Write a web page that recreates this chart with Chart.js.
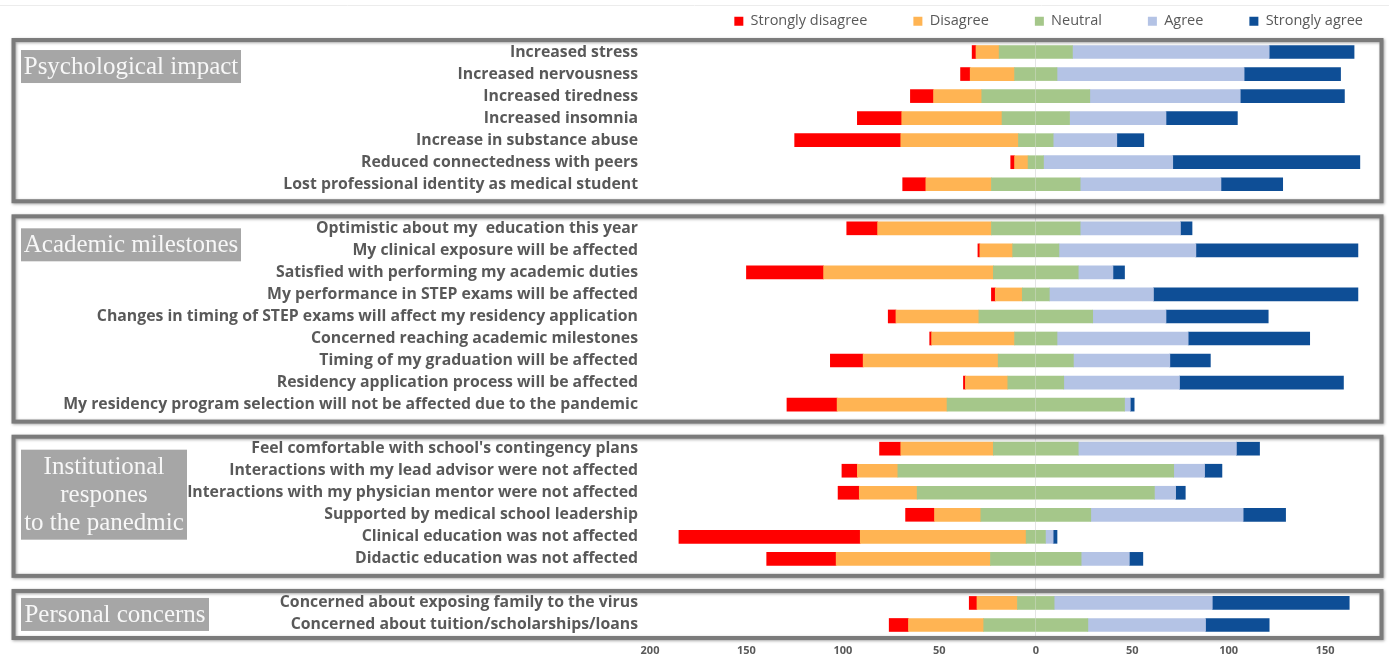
<!DOCTYPE html>
<html>
<head>
<meta charset="utf-8">
<script src="https://cdn.jsdelivr.net/npm/chart.js@4.4.1/dist/chart.umd.min.js"></script>
<style>
  html, body { margin: 0; padding: 0; background: #fff; }
  #wrap { width: 1389px; height: 658px; }
</style>
</head>
<body>
<div id="wrap"><canvas id="likertChart"></canvas></div>
<script>
// questions, empty strings are the gaps between groups
const categories = [
  'Increased stress',
  'Increased nervousness',
  'Increased tiredness',
  'Increased insomnia',
  'Increase in substance abuse',
  'Reduced connectedness with peers',
  'Lost professional identity as medical student',
  '',
  'Optimistic about my  education this year',
  'My clinical exposure will be affected',
  'Satisfied with performing my academic duties',
  'My performance in STEP exams will be affected',
  'Changes in timing of STEP exams will affect my residency application',
  'Concerned reaching academic milestones',
  'Timing of my graduation will be affected',
  'Residency application process will be affected',
  'My residency program selection will not be affected due to the pandemic',
  '',
  "Feel comfortable with school's contingency plans",
  'Interactions with my lead advisor were not affected',
  'Interactions with my physician mentor were not affected',
  'Supported by medical school leadership',
  'Clinical education was not affected',
  'Didactic education was not affected',
  '',
  'Concerned about exposing family to the virus',
  'Concerned about tuition/scholarships/loans'
];

const stronglyDisagree = [2, 5, 12, 23, 55, 2, 12, null, 16, 1, 40, 2, 4, 1, 17, 1, 26, null, 11, 8, 11, 15, 94, 36, null, 4, 10];
const disagree         = [12, 23, 25, 52, 61, 7, 34, null, 59, 17, 88, 14, 43, 43, 70, 22, 57, null, 48, 21, 30, 24, 86, 80, null, 21, 39];
const neutral          = [38, 22, 56, 35, 18, 8, 46, null, 46, 24, 44, 14, 59, 22, 39, 29, 92, null, 44, 143, 123, 57, 10, 47, null, 19, 54];
const agree            = [102, 97, 78, 50, 33, 67, 73, null, 52, 71, 18, 54, 38, 68, 50, 60, 3, null, 82, 16, 11, 79, 4, 25, null, 82, 61];
const stronglyAgree    = [44, 50, 54, 37, 14, 97, 32, null, 6, 84, 6, 106, 53, 63, 21, 85, 2, null, 12, 9, 5, 22, 2, 7, null, 71, 33];

const xTicks = [-200, -150, -100, -50, 0, 50, 100, 150];

// group boxes: first/last row index, title lines
const groups = [
  { title: ['Psychological impact'], first: 0, last: 6, rectTop: -2, rectW: 220, rectH: 33, boxBottom: 17 },
  { title: ['Academic milestones'], first: 8, last: 16, rectTop: 0, rectW: 220, rectH: 33, boxBottom: 17 },
  { title: ['Institutional', 'respones', 'to the panedmic'], first: 18, last: 23, rectTop: 1, rectW: 166, rectH: 90, boxBottom: 17 },
  { title: ['Personal concerns'], first: 25, last: 26, rectTop: -5, rectW: 188, rectH: 33, boxBottom: 13 }
];

const neg = arr => arr.map(v => v == null ? null : -v);
const half = (arr, s) => arr.map(v => v == null ? null : s * v / 2);

const groupBoxes = {
  id: 'groupBoxes',
  beforeInit(chart) {
    const fit = chart.legend.fit;
    chart.legend.fit = function () {
      fit.bind(chart.legend)();
      this.height = 41;
    };
  },
  afterLayout(chart) {
    // legend padding is also used vertically, so lift the legend box
    const lg = chart.legend;
    lg.top = -32;
    lg.bottom = 41;
    lg.left += 26;
    lg.right += 26;
  },
  beforeDraw(chart) {
    const ctx = chart.ctx;
    ctx.save();
    ctx.strokeStyle = '#ececec';
    ctx.lineWidth = 1;
    ctx.beginPath();
    ctx.moveTo(0, 5.5);
    ctx.lineTo(chart.width, 5.5);
    ctx.stroke();
    ctx.restore();
  },
  afterDraw(chart) {
    const ctx = chart.ctx;
    const y = chart.scales.y;
    ctx.save();
    groups.forEach(g => {
      const top = y.getPixelForValue(g.first) - 12;
      const bottom = y.getPixelForValue(g.last) + g.boxBottom;
      ctx.shadowColor = 'rgba(0,0,0,0.35)';
      ctx.shadowBlur = 3;
      ctx.shadowOffsetX = 1;
      ctx.shadowOffsetY = 1;
      ctx.strokeStyle = '#7b7b7b';
      ctx.lineWidth = 4;
      ctx.strokeRect(13.5, top, 1368, bottom - top);
      ctx.shadowColor = 'transparent';

      const rTop = y.getPixelForValue(g.first) + g.rectTop;
      ctx.fillStyle = '#a6a6a6';
      ctx.fillRect(21, rTop, g.rectW, g.rectH);
      ctx.fillStyle = '#f7f7f7';
      ctx.font = '25px "Liberation Serif", "DejaVu Serif", serif';
      ctx.textAlign = 'center';
      ctx.textBaseline = 'middle';
      const lh = 28;
      const cy = rTop + g.rectH / 2 - (g.title.length - 1) * lh / 2;
      g.title.forEach((line, i) => {
        ctx.fillText(line, 21 + g.rectW / 2, cy + i * lh + 1);
      });
    });
    ctx.restore();
  }
};

new Chart(document.getElementById('likertChart'), {
  type: 'bar',
  data: {
    labels: categories,
    datasets: [
      { label: 'Neutral', data: half(neutral, -1), backgroundColor: '#a5c78a' },
      { label: 'Disagree', data: neg(disagree), backgroundColor: '#ffb453' },
      { label: 'Strongly disagree', data: neg(stronglyDisagree), backgroundColor: '#ff0000' },
      { label: 'Neutral ', data: half(neutral, 1), backgroundColor: '#a5c78a' },
      { label: 'Agree', data: agree, backgroundColor: '#b4c3e5' },
      { label: 'Strongly agree', data: stronglyAgree, backgroundColor: '#0e4e96' }
    ]
  },
  options: {
    indexAxis: 'y',
    responsive: true,
    maintainAspectRatio: false,
    animation: false,
    datasets: { bar: { barThickness: 13, borderWidth: 0 } },
    layout: { padding: { left: 0, right: 6, top: 0, bottom: 0 } },
    scales: {
      x: {
        stacked: true,
        min: -200,
        max: 180,
        afterBuildTicks: scale => { scale.ticks = xTicks.map(v => ({ value: v })); },
        afterFit: scale => { scale.height = 22; },
        grid: {
          drawTicks: false,
          color: c => (c.tick && c.tick.value === 0) ? '#e4e4e4' : 'rgba(0,0,0,0)'
        },
        border: { display: false },
        ticks: {
          padding: 8,
          color: '#595959',
          font: { family: 'Open Sans', size: 11, weight: 'bold' },
          callback: v => Math.abs(v)
        }
      },
      y: {
        stacked: true,
        afterFit: scale => { scale.width = 650; },
        grid: { display: false, drawTicks: false },
        border: { display: false },
        ticks: {
          padding: 12,
          autoSkip: false,
          color: '#595959',
          font: { family: 'Open Sans', size: 15.8, weight: 'bold' }
        }
      }
    },
    plugins: {
      tooltip: { enabled: false },
      legend: {
        position: 'top',
        align: 'end',
        labels: {
          boxWidth: 9,
          boxHeight: 9,
          padding: 46,
          color: '#595959',
          font: { family: 'Open Sans', size: 14.5 },
          generateLabels: chart => {
            const all = Chart.defaults.plugins.legend.labels.generateLabels(chart);
            return [2, 1, 0, 4, 5].map(i => all[i]);
          }
        }
      }
    }
  },
  plugins: [groupBoxes]
});
</script>
</body>
</html>
